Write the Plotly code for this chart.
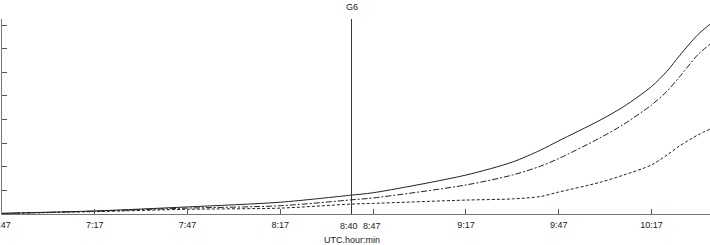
import plotly.graph_objects as go

times = ["06:47", "07:17", "07:47", "08:17", "08:40", "08:47", "09:17", "09:32",
         "09:41", "09:47", "10:00", "10:08", "10:17", "10:22", "10:26", "10:32", "10:36"]
solid_vals = [0.03, 0.13, 0.30, 0.50, 0.80, 0.90, 1.65, 2.20,
              2.70, 3.10, 3.95, 4.55, 5.40, 6.05, 6.70, 7.60, 8.05]
dashdot_vals = [0.02, 0.12, 0.25, 0.35, 0.60, 0.68, 1.23, 1.65,
                2.02, 2.35, 3.20, 3.80, 4.62, 5.20, 5.80, 6.75, 7.20]
dashed_vals = [0.02, 0.10, 0.20, 0.25, 0.42, 0.45, 0.59, 0.64,
               0.74, 0.93, 1.33, 1.65, 2.08, 2.50, 2.88, 3.35, 3.60]

tick_times = ["06:47", "07:17", "07:47", "08:17", "08:47", "09:17", "09:47", "10:17"]
tick_labels = ["6:47", "7:17", "7:47", "8:17", "", "9:17", "9:47", "10:17"]
event_time = "08:40"
event_label = "G6"
y_ticks = [0, 1, 2, 3, 4, 5, 6, 7, 8]

D = "2000-01-01 "
xs = [D + t for t in times]
FONT = "Liberation Sans, Arial, sans-serif"
LC = "#222"

fig = go.Figure()
fig.add_trace(go.Scatter(x=xs, y=solid_vals, mode="lines",
                         line=dict(color=LC, width=1, shape="spline", smoothing=0.8)))
fig.add_trace(go.Scatter(x=xs, y=dashdot_vals, mode="lines",
                         line=dict(color=LC, width=1, shape="spline", smoothing=0.8,
                                   dash="6px,2px,2px,2px")))
fig.add_trace(go.Scatter(x=xs, y=dashed_vals, mode="lines",
                         line=dict(color=LC, width=1, shape="spline", smoothing=0.8,
                                   dash="3px,2px")))

fig.add_shape(type="line", xref="x", yref="paper",
              x0=D + event_time, x1=D + event_time, y0=0, y1=1,
              line=dict(color="#333", width=1))
fig.add_annotation(x=D + event_time, xref="x", y=1, yref="paper", yshift=5,
                   text=event_label, showarrow=False, yanchor="bottom",
                   font=dict(size=9, color=LC))
# labels under the event line and the crowded 8:47 tick
fig.add_annotation(x=D + event_time, xref="x", y=0, yref="paper", yshift=-5, xshift=8,
                   text="8:40", showarrow=False, yanchor="top", xanchor="right",
                   font=dict(size=9, color=LC))
fig.add_annotation(x=D + event_time, xref="x", y=0, yref="paper", yshift=-5, xshift=9,
                   text="8:47", showarrow=False, yanchor="top", xanchor="left",
                   font=dict(size=9, color=LC))
# axis title
fig.add_annotation(x=D + event_time, xref="x", y=0, yref="paper", yshift=-26,
                   text="UTC.hour:min", showarrow=False, yanchor="middle", xanchor="center",
                   font=dict(size=9, color=LC))

fig.update_layout(
    width=710, height=245,
    margin=dict(l=2, r=0, t=19, b=31),
    paper_bgcolor="white", plot_bgcolor="white",
    showlegend=False,
    font=dict(family=FONT, size=9, color=LC),
)
fig.update_xaxes(
    type="date",
    range=[D + "06:47", D + "10:35:54"],
    tickvals=[D + t for t in tick_times], ticktext=tick_labels,
    tickangle=0, automargin=False, ticklabeloverflow="allow",
    ticklabelstandoff=2,
    ticks="inside", ticklen=5, tickcolor="#555",
    showline=True, linecolor="#777", linewidth=1,
    showgrid=False, zeroline=False,
    tickfont=dict(size=9),
)
fig.update_yaxes(
    range=[0, 8.26], automargin=False,
    tickvals=y_ticks, showticklabels=False,
    ticks="inside", ticklen=5, tickcolor="#555",
    showline=True, linecolor="#777", linewidth=1,
    showgrid=False, zeroline=False,
)

fig.write_html("out.html", config={"displayModeBar": False, "staticPlot": True})

with open("out.html", encoding="utf-8") as f:
    html = f.read()
html = html.replace("<body>", '<body style="margin:0;overflow:hidden">', 1)
with open("out.html", "w", encoding="utf-8") as f:
    f.write(html)
